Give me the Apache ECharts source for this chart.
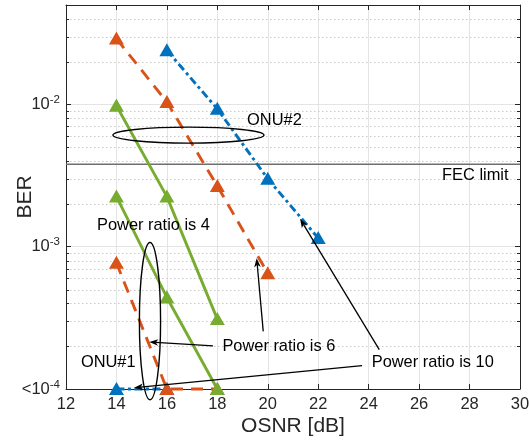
<!DOCTYPE html>
<html><head><meta charset="utf-8">
<script src="https://cdn.jsdelivr.net/npm/echarts@6/dist/echarts.min.js"></script>
<style>html,body{margin:0;padding:0;background:#fff}#c{width:529px;height:443px}</style>
</head><body><div id="c"></div>
<script>
// ---- data ----
const xTicks = [12, 14, 16, 18, 20, 22, 24, 26, 28, 30];
const yTicks = [1e-4, 1e-3, 1e-2];
const yTickText = ['<10{sup|-4}', '10{sup|-3}', '10{sup|-2}'];
const fecLimit = 3.8e-3;

const onu2Ratio10X = [16, 18, 20, 22];
const onu2Ratio10Y = [2.4e-2, 9.3e-3, 3.0e-3, 1.15e-3];
const onu2Ratio6X = [14, 16, 18, 20];
const onu2Ratio6Y = [2.9e-2, 1.04e-2, 2.67e-3, 6.5e-4];
const onu2Ratio4X = [14, 16, 18];
const onu2Ratio4Y = [9.8e-3, 2.25e-3, 3.1e-4];

const onu1Ratio10X = [14, 16];
const onu1Ratio10Y = [1e-4, 1e-4];
const onu1Ratio6X = [14, 16, 18];
const onu1Ratio6Y = [7.7e-4, 1e-4, 1e-4];
const onu1Ratio4X = [14, 16, 18];
const onu1Ratio4Y = [2.25e-3, 4.4e-4, 1e-4];

// ---- style ----
const FONT = '"Liberation Sans", Arial, Helvetica, sans-serif';
const AX = '#262626';
const BLUE = '#0072BD', ORANGE = '#D95319', GREEN = '#77AC30';
const xMin = xTicks[0], xMax = xTicks[xTicks.length - 1];
const yMin = 1e-4, yMax = 5e-2;

const zip = (xs, ys) => xs.map((x, i) => [x, ys[i]]);

function lineSeries(name, xs, ys, color, dash) {
  return {
    name, type: 'line', data: zip(xs, ys), clip: false, z: 3,
    symbol: 'triangle', symbolSize: [11.5, 10],
    itemStyle: { color: color, borderColor: color, borderWidth: 2 },
    lineStyle: { color, width: 2.9, type: dash, cap: 'butt' },
    emphasis: { disabled: true }, animation: false
  };
}

const chart = echarts.init(document.getElementById('c'), null, { renderer: 'canvas' });

const option = {
  animation: false,
  backgroundColor: '#fff',
  grid: { left: 66, right: 9, top: 5, bottom: 54, containLabel: false, outerBoundsMode: 'none' },
  xAxis: [{
    type: 'value', min: xMin, max: xMax, interval: 2,
    name: 'OSNR [dB]', nameLocation: 'middle', nameGap: 27, nameMoveOverlap: false,
    nameTextStyle: { fontSize: 21, color: AX, fontFamily: FONT },
    axisLine: { show: true, lineStyle: { color: AX, width: 1 } },
    axisTick: { show: true, inside: true, length: 5, lineStyle: { color: AX } },
    axisLabel: { fontSize: 16.5, color: AX, fontFamily: FONT, margin: 7 },
    splitLine: { show: true, lineStyle: { color: '#e4e4e4', width: 1 } }
  }, {
    type: 'value', min: xMin, max: xMax, interval: 2, position: 'top',
    axisLine: { show: true, lineStyle: { color: AX, width: 1 } },
    axisTick: { show: true, inside: true, length: 5, lineStyle: { color: AX } },
    axisLabel: { show: false }, splitLine: { show: false }
  }],
  yAxis: [{
    type: 'log', logBase: 10, min: yMin, max: yMax,
    name: 'BER', nameLocation: 'middle', nameGap: 30, nameRotate: 90, nameMoveOverlap: false,
    nameTextStyle: { fontSize: 21, color: AX, fontFamily: FONT },
    axisLine: { show: true, lineStyle: { color: AX, width: 1 } },
    axisTick: { show: true, inside: true, length: 5, lineStyle: { color: AX } },
    axisLabel: {
      fontSize: 16.5, color: AX, fontFamily: FONT, margin: 6, showMaxLabel: false,
      formatter: v => {
        const i = yTicks.findIndex(t => Math.abs(Math.log10(t) - Math.log10(v)) < 1e-6);
        return i < 0 ? '' : yTickText[i];
      },
      rich: { sup: { fontSize: 11.5, color: AX, fontFamily: FONT, padding: [0, 0, 9, 0] } }
    },
    splitLine: { show: true, lineStyle: { color: '#e4e4e4', width: 1 } }
  }, {
    type: 'log', logBase: 10, min: yMin, max: yMax, position: 'right',
    axisLine: { show: true, lineStyle: { color: AX, width: 1 } },
    axisTick: { show: true, inside: true, length: 5, lineStyle: { color: AX } },
    axisLabel: { show: false }, splitLine: { show: false }
  }],
  series: [
    lineSeries('ONU#2 ratio 10', onu2Ratio10X, onu2Ratio10Y, BLUE, [8, 3.5, 3, 3.5]),
    lineSeries('ONU#1 ratio 10', onu1Ratio10X, onu1Ratio10Y, BLUE, [8, 3.5, 3, 3.5]),
    lineSeries('ONU#2 ratio 6', onu2Ratio6X, onu2Ratio6Y, ORANGE, [12, 8]),
    lineSeries('ONU#1 ratio 6', onu1Ratio6X, onu1Ratio6Y, ORANGE, [12, 8]),
    lineSeries('ONU#2 ratio 4', onu2Ratio4X, onu2Ratio4Y, GREEN, 'solid'),
    lineSeries('ONU#1 ratio 4', onu1Ratio4X, onu1Ratio4Y, GREEN, 'solid')
  ]
};
chart.setOption(option);

// ---- annotations anchored in data coordinates ----
const annoTexts = [
  { text: 'ONU#2', at: [19.18, 7.76e-3] },
  { text: 'FEC limit', at: [26.91, 3.19e-3] },
  { text: 'Power ratio is 4', at: [13.23, 1.40e-3] },
  { text: 'ONU#1', at: [12.59, 1.53e-4] },
  { text: 'Power ratio is 6', at: [18.2, 1.99e-4] },
  { text: 'Power ratio is 10', at: [24.12, 1.54e-4] }
];
const annoEllipses = [
  { xr: [13.86, 19.85], yr: [5.35e-3, 6.93e-3] },
  { xr: [14.91, 15.75], yr: [8.4e-5, 1.07e-3] }
];
const annoArrows = [
  { from: [17.83, 2.01e-4], to: [15.30, 2.14e-4] },
  { from: [19.82, 2.54e-4], to: [19.56, 8.30e-4] },
  { from: [24.42, 1.89e-4], to: [21.28, 1.57e-3] },
  { from: [23.74, 1.46e-4], to: [14.70, 1.02e-4] }
];

const P = (x, y) => chart.convertToPixel({ xAxisIndex: 0, yAxisIndex: 0 }, [x, y]);
const g = [];
const xl = P(xMin, yMin)[0], xr = P(xMax, yMin)[0];

// minor log grid + minor ticks
for (let e = -4; e <= -2; e++) for (let k = 2; k <= 9; k++) {
  const v = k * Math.pow(10, e);
  if (v >= yMax * 0.999) continue;
  const y = Math.round(P(xMin, v)[1]) + 0.5;
  g.push({ type: 'line', z: 1, silent: true, shape: { x1: xl, y1: y, x2: xr, y2: y },
    style: { stroke: '#c8c8c8', lineWidth: 1, lineDash: [1.5, 2.5] } });
  g.push({ type: 'line', z: 1, silent: true, shape: { x1: xl, y1: y, x2: xl + 3, y2: y },
    style: { stroke: AX, lineWidth: 1 } });
  g.push({ type: 'line', z: 1, silent: true, shape: { x1: xr - 3, y1: y, x2: xr, y2: y },
    style: { stroke: AX, lineWidth: 1 } });
}
// FEC limit line (below series)
{
  const y = P(xMin, fecLimit)[1];
  g.push({ type: 'line', z: 1, silent: true, shape: { x1: xl, y1: y, x2: xr, y2: y },
    style: { stroke: '#6e6e6e', lineWidth: 1.6 } });
}

annoEllipses.forEach(e => {
  const a = P(e.xr[0], e.yr[1]), b = P(e.xr[1], e.yr[0]);
  g.push({ type: 'ellipse', z: 100, silent: true,
    shape: { cx: (a[0] + b[0]) / 2, cy: (a[1] + b[1]) / 2, rx: Math.abs(b[0] - a[0]) / 2, ry: Math.abs(b[1] - a[1]) / 2 },
    style: { fill: 'transparent', stroke: '#000', lineWidth: 1.4 } });
});
annoArrows.forEach(ar => {
  const a = P(ar.from[0], ar.from[1]), b = P(ar.to[0], ar.to[1]);
  const dx = b[0] - a[0], dy = b[1] - a[1], L = Math.hypot(dx, dy), ux = dx / L, uy = dy / L;
  const len = 9, hw = 3.3, back = 6.5;
  const bx = b[0] - ux * len, by = b[1] - uy * len;
  const p1 = [bx - uy * hw, by + ux * hw], p2 = [bx + uy * hw, by - ux * hw];
  const n = [b[0] - ux * back, b[1] - uy * back];
  g.push({ type: 'line', z: 100, silent: true, shape: { x1: a[0], y1: a[1], x2: n[0], y2: n[1] },
    style: { stroke: '#000', lineWidth: 1.3 } });
  g.push({ type: 'polygon', z: 100, silent: true, shape: { points: [b, p1, n, p2] },
    style: { fill: '#000' } });
});
annoTexts.forEach(t => {
  const p = P(t.at[0], t.at[1]);
  g.push({ type: 'text', z: 101, silent: true, x: p[0], y: p[1],
    style: { text: t.text, font: '16.4px ' + FONT, fill: '#000', align: 'left', verticalAlign: 'middle' } });
});
chart.setOption({ graphic: g });
</script>
</body></html>
